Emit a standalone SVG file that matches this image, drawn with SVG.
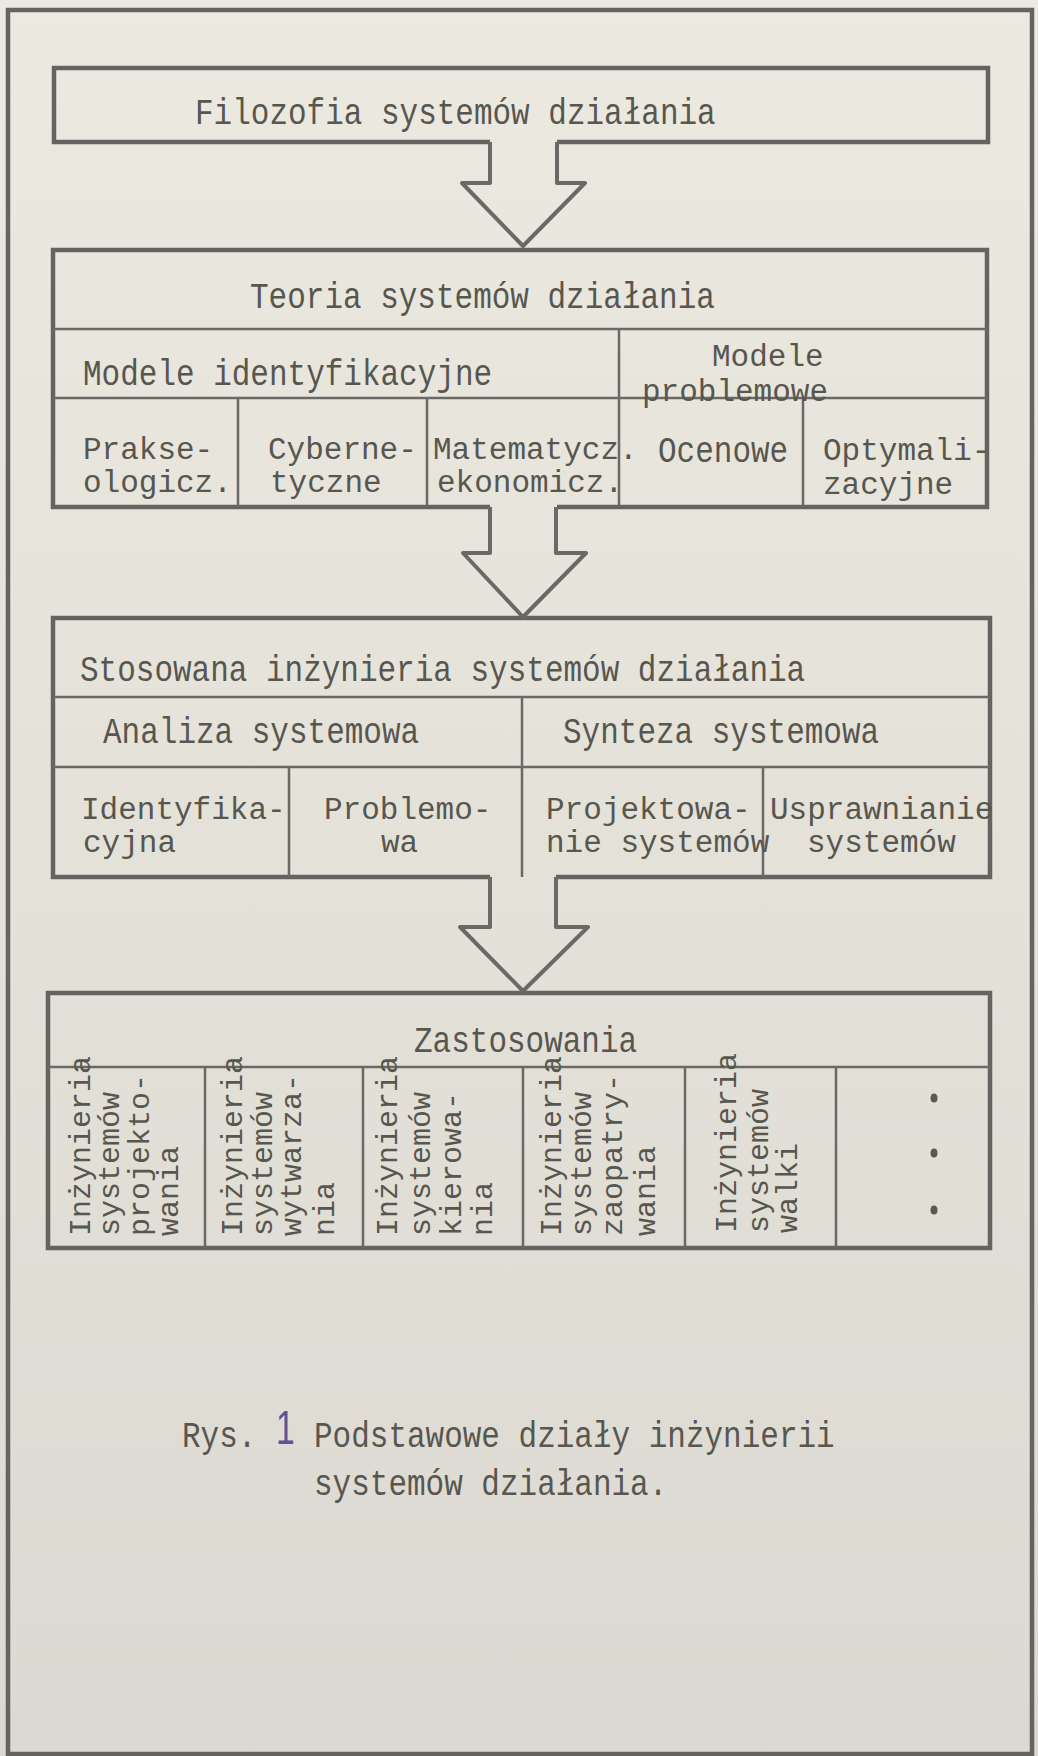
<svg xmlns="http://www.w3.org/2000/svg" width="1038" height="1756" viewBox="0 0 1038 1756">
<defs>
<linearGradient id="paper" x1="0" y1="0" x2="0" y2="1">
<stop offset="0" stop-color="#ece9e1"/>
<stop offset="0.5" stop-color="#e4e1d9"/>
<stop offset="1" stop-color="#dcd9d2"/>
</linearGradient>
<style>
.box{fill:none;stroke:#64635f;stroke-width:4.5;stroke-linejoin:miter}
.div{fill:none;stroke:#6a6965;stroke-width:2.5}
.arr{fill:none;stroke:#6a6965;stroke-width:4;stroke-linejoin:round}
.t{font-family:"Liberation Mono","DejaVu Sans Mono",monospace;font-size:31px;fill:#57564f}
.v{font-family:"Liberation Mono","DejaVu Sans Mono",monospace;font-size:30px;fill:#57574f}
.dot{fill:#5a5a55}
</style>
</defs>
<rect x="0" y="0" width="1038" height="1756" fill="url(#paper)"/>
<rect id="frame" x="8" y="10" width="1024" height="1744" fill="none" stroke="#64635f" stroke-width="4.5"/>

<g id="filozofia">
<path class="box" d="M490,142 H54 V68 H988 V142 H557"/>
<text class="t" transform="translate(195,124) scale(1,1.18)">Filozofia systemów działania</text>
</g>

<g id="teoria">
<path class="box" d="M490,507 H53 V250 H987 V507 H557"/>
<path class="div" d="M53,329 H987 M53,398 H987 M619,329 V507 M238,398 V507 M427,398 V507 M803,398 V507"/>
<text class="t" transform="translate(250,308) scale(1,1.18)">Teoria systemów działania</text>
<text class="t" transform="translate(83,385) scale(1,1.18)">Modele identyfikacyjne</text>
<text class="t" x="712" y="366">Modele</text>
<text class="t" x="642" y="401">problemowe</text>
<text class="t" x="83" y="459">Prakse-</text>
<text class="t" x="83" y="492">ologicz.</text>
<text class="t" x="268" y="459">Cyberne-</text>
<text class="t" x="270" y="492">tyczne</text>
<text class="t" x="433" y="459">Matematycz.</text>
<text class="t" x="437" y="492">ekonomicz.</text>
<text class="t" transform="translate(658,462) scale(1,1.18)">Ocenowe</text>
<text class="t" x="823" y="460">Optymali-</text>
<text class="t" x="823" y="494">zacyjne</text>
</g>

<g id="stosowana">
<path class="box" d="M490,877 H53 V618 H990 V877 H556"/>
<path class="div" d="M53,697 H990 M53,767 H990 M522,697 V877 M289,767 V877 M763,767 V877"/>
<text class="t" transform="translate(80,681) scale(1,1.18)">Stosowana inżynieria systemów działania</text>
<text class="t" transform="translate(103,743) scale(1,1.18)">Analiza systemowa</text>
<text class="t" transform="translate(563,743) scale(1,1.18)">Synteza systemowa</text>
<text class="t" x="81" y="819">Identyfika-</text>
<text class="t" x="83" y="852">cyjna</text>
<text class="t" x="324" y="819">Problemo-</text>
<text class="t" x="381" y="852">wa</text>
<text class="t" x="546" y="819">Projektowa-</text>
<text class="t" x="546" y="852">nie systemów</text>
<text class="t" x="770" y="819">Usprawnianie</text>
<text class="t" x="807" y="852">systemów</text>
</g>

<g id="zastosowania">
<path class="box" d="M48,993 H990 V1248 H48 Z"/>
<path class="div" d="M48,1067 H990 M205,1067 V1248 M363,1067 V1248 M523,1067 V1248 M685,1067 V1248 M836,1067 V1248"/>
<text class="t" transform="translate(414,1052) scale(1,1.18)">Zastosowania</text>
<g class="v">
<text transform="translate(90,1236) rotate(-90)">Inżynieria</text>
<text transform="translate(119,1236) rotate(-90)">systemów</text>
<text transform="translate(149,1236) rotate(-90)">projekto-</text>
<text transform="translate(178,1236) rotate(-90)">wania</text>
<text transform="translate(242,1236) rotate(-90)">Inżynieria</text>
<text transform="translate(272,1236) rotate(-90)">systemów</text>
<text transform="translate(301,1236) rotate(-90)">wytwarza-</text>
<text transform="translate(334,1236) rotate(-90)">nia</text>
<text transform="translate(397,1236) rotate(-90)">Inżynieria</text>
<text transform="translate(430,1236) rotate(-90)">systemów</text>
<text transform="translate(461,1236) rotate(-90)">kierowa-</text>
<text transform="translate(492,1236) rotate(-90)">nia</text>
<text transform="translate(561,1236) rotate(-90)">Inżynieria</text>
<text transform="translate(591,1236) rotate(-90)">systemów</text>
<text transform="translate(622,1236) rotate(-90)">zaopatry-</text>
<text transform="translate(655,1236) rotate(-90)">wania</text>
<text transform="translate(736,1233) rotate(-90)">Inżynieria</text>
<text transform="translate(768,1233) rotate(-90)">systemów</text>
<text transform="translate(797,1233) rotate(-90)">walki</text>
</g>
<ellipse class="dot" cx="934" cy="1098" rx="3.5" ry="4.5"/>
<ellipse class="dot" cx="934" cy="1153" rx="3.5" ry="4.5"/>
<ellipse class="dot" cx="934" cy="1210" rx="3.5" ry="4.5"/>
</g>

<g id="connectors">
<path class="arr" d="M490,142 V183 H462 L523,246 L585,183 H557 V142"/>
<path class="arr" d="M490,507 V553 H463 L523,617 L586,553 H556 V507"/>
<path class="arr" d="M490,877 V927 H460 L523,991 L588,927 H556 V877"/>
</g>

<g id="caption">
<text class="t" transform="translate(182,1447) scale(1,1.18)">Rys.</text>
<text transform="translate(276,1444) scale(0.8,1.15)" font-family="Liberation Sans, sans-serif" font-size="42" fill="#56569a">1</text>
<text class="t" transform="translate(314,1447) scale(1,1.18)">Podstawowe działy inżynierii</text>
<text class="t" transform="translate(314,1495) scale(1,1.18)">systemów działania.</text>
</g>
</svg>
